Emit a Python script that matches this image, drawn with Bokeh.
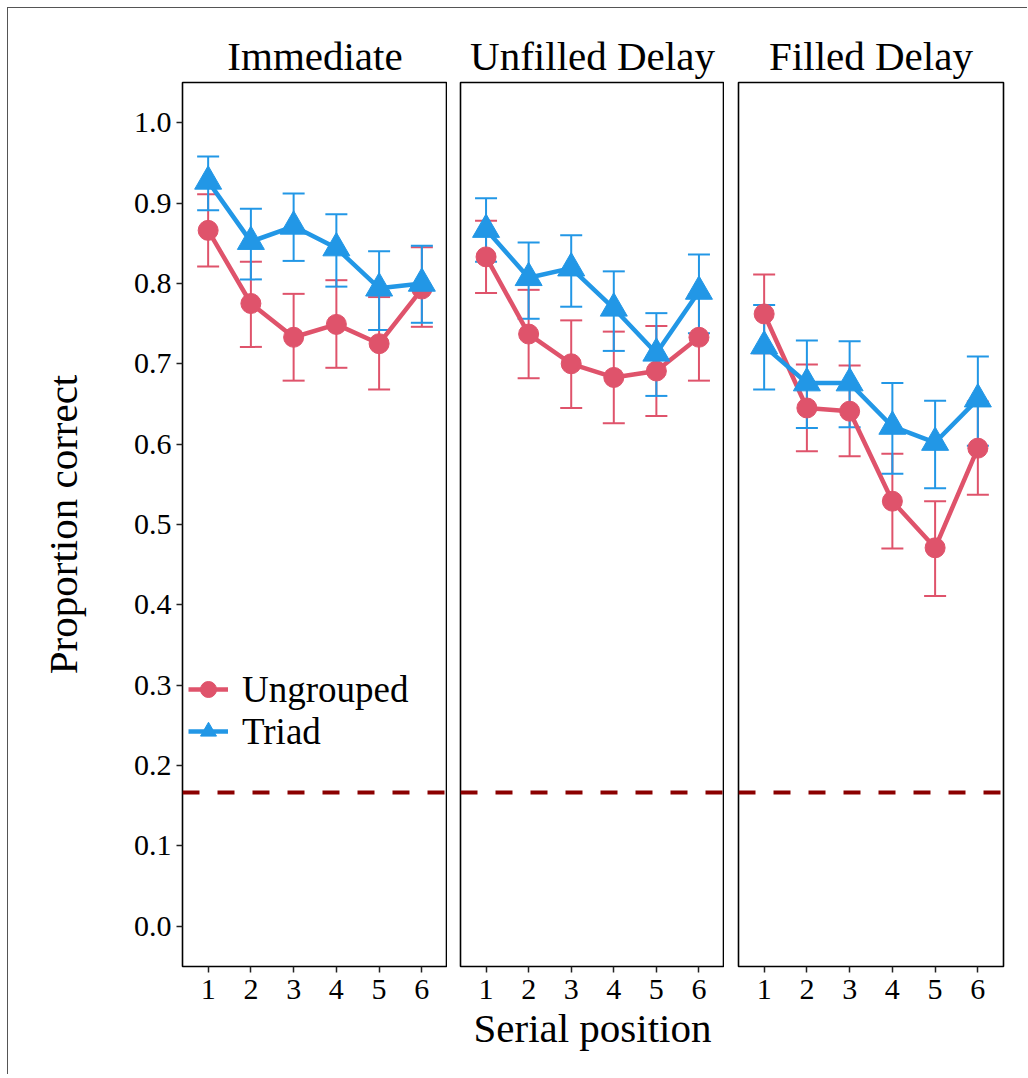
from bokeh.plotting import figure
from bokeh.layouts import row
from bokeh.models import (Range1d, FixedTicker, NumeralTickFormatter, Whisker, TeeHead,
                          ColumnDataSource, Span, Legend, LegendItem)
from bokeh.embed import file_html
from bokeh.resources import INLINE

FONT = "Liberation Serif"
RED = "#DF536B"
BLUE = "#2297E6"

conditions = ["Immediate", "Unfilled Delay", "Filled Delay"]
positions = [1, 2, 3, 4, 5, 6]
y_ticks = [0.0, 0.1, 0.2, 0.3, 0.4, 0.5, 0.6, 0.7, 0.8, 0.9, 1.0]
chance = 1 / 6

# Ungrouped (mean, lower, upper) per condition
ung_immediate = [0.866, 0.775, 0.733, 0.749, 0.725, 0.793]
ung_immediate_lo = [0.821, 0.721, 0.679, 0.695, 0.668, 0.746]
ung_immediate_hi = [0.911, 0.827, 0.787, 0.804, 0.783, 0.845]
ung_unfilled = [0.833, 0.737, 0.700, 0.683, 0.691, 0.733]
ung_unfilled_lo = [0.788, 0.682, 0.645, 0.626, 0.635, 0.679]
ung_unfilled_hi = [0.878, 0.792, 0.754, 0.740, 0.747, 0.786]
ung_filled = [0.762, 0.645, 0.641, 0.529, 0.471, 0.595]
ung_filled_lo = [0.713, 0.591, 0.585, 0.470, 0.411, 0.537]
ung_filled_hi = [0.811, 0.699, 0.698, 0.588, 0.529, 0.653]

# Triad
tri_immediate = [0.927, 0.852, 0.871, 0.844, 0.794, 0.800]
tri_immediate_lo = [0.891, 0.805, 0.828, 0.796, 0.742, 0.751]
tri_immediate_hi = [0.958, 0.893, 0.912, 0.886, 0.840, 0.847]
tri_unfilled = [0.867, 0.807, 0.819, 0.769, 0.713, 0.790]
tri_unfilled_lo = [0.827, 0.756, 0.771, 0.716, 0.660, 0.738]
tri_unfilled_hi = [0.906, 0.851, 0.860, 0.815, 0.763, 0.836]
tri_filled = [0.722, 0.676, 0.676, 0.622, 0.602, 0.656]
tri_filled_lo = [0.668, 0.620, 0.621, 0.563, 0.545, 0.598]
tri_filled_hi = [0.773, 0.729, 0.728, 0.676, 0.654, 0.709]

ung_data = [(ung_immediate, ung_immediate_lo, ung_immediate_hi),
            (ung_unfilled, ung_unfilled_lo, ung_unfilled_hi),
            (ung_filled, ung_filled_lo, ung_filled_hi)]
tri_data = [(tri_immediate, tri_immediate_lo, tri_immediate_hi),
            (tri_unfilled, tri_unfilled_lo, tri_unfilled_hi),
            (tri_filled, tri_filled_lo, tri_filled_hi)]

y_range = Range1d(-0.05, 1.05)
frame_widths = [265, 264, 265]
left_borders = [174, 13, 14]
right_borders = [0, 0, 24]

figs = []
for i, name in enumerate(conditions):
    p = figure(frame_width=frame_widths[i], frame_height=884,
               x_range=Range1d(0.4, 6.6), y_range=y_range,
               output_backend="svg", toolbar_location=None,
               min_border_left=left_borders[i], min_border_right=right_borders[i],
               min_border_top=74, min_border_bottom=108, title=name)
    p.xgrid.visible = False
    p.ygrid.visible = False
    p.outline_line_color = "black"
    p.outline_line_width = 1.6
    p.background_fill_color = "white"
    p.border_fill_color = "white"

    p.title.text_font = FONT
    p.title.text_font_size = "41px"
    p.title.text_font_style = "normal"
    p.title.text_color = "black"
    p.title.align = "center"
    p.title.standoff = 7

    p.add_layout(Span(location=chance, dimension="width", line_color="#8B0000",
                      line_width=4, line_dash="17 18"))

    sources = {}
    for key, data, col in [("ung", ung_data[i], RED), ("tri", tri_data[i], BLUE)]:
        mean, lo, hi = data
        src = ColumnDataSource(dict(x=positions, y=mean, lo=lo, hi=hi))
        p.add_layout(Whisker(source=src, base="x", upper="hi", lower="lo",
                             line_color=col, line_width=2,
                             upper_head=TeeHead(size=22, line_color=col, line_width=2),
                             lower_head=TeeHead(size=22, line_color=col, line_width=2)))
        sources[key] = src
    lines = {}
    for key, col in [("ung", RED), ("tri", BLUE)]:
        lines[key] = p.line("x", "y", source=sources[key], line_color=col, line_width=4.5)
    pts = {}
    for key, col, marker, size in [("ung", RED, "circle", 20), ("tri", BLUE, "triangle", 27)]:
        pts[key] = p.scatter("x", "y", source=sources[key], marker=marker, size=size,
                             fill_color=col, line_color=col)

    xa = p.xaxis[0]
    xa.ticker = FixedTicker(ticks=positions)
    xa.axis_line_color = None
    xa.major_tick_line_color = "#222222"
    xa.major_tick_line_width = 1.5
    xa.major_tick_out = 6
    xa.major_tick_in = 0
    xa.minor_tick_line_color = None
    xa.major_label_text_font = FONT
    xa.major_label_text_font_size = "30px"
    xa.major_label_text_color = "black"
    xa.major_label_standoff = 7
    if i == 1:
        xa.axis_label = "Serial position"
        xa.axis_label_text_font = FONT
        xa.axis_label_text_font_size = "41px"
        xa.axis_label_text_font_style = "normal"
        xa.axis_label_text_color = "black"
        xa.axis_label_standoff = 3

    ya = p.yaxis[0]
    if i == 0:
        ya.ticker = FixedTicker(ticks=y_ticks)
        ya.formatter = NumeralTickFormatter(format="0.0")
        ya.axis_line_color = None
        ya.major_tick_line_color = "#222222"
        ya.major_tick_line_width = 1.5
        ya.major_tick_out = 6
        ya.major_tick_in = 0
        ya.minor_tick_line_color = None
        ya.major_label_text_font = FONT
        ya.major_label_text_font_size = "30px"
        ya.major_label_text_color = "black"
        ya.major_label_standoff = 5
        ya.axis_label = "Proportion correct"
        ya.axis_label_text_font = FONT
        ya.axis_label_text_font_size = "41px"
        ya.axis_label_text_font_style = "normal"
        ya.axis_label_text_color = "black"
        ya.axis_label_standoff = 45

        for label, key, ly in [("Ungrouped", "ung", 254), ("Triad", "tri", 212)]:
            legend = Legend(items=[LegendItem(label=label, renderers=[lines[key], pts[key]])],
                            location=(6, ly))
            legend.border_line_color = None
            legend.background_fill_alpha = 0
            legend.padding = 0
            legend.margin = 0
            legend.glyph_width = 40
            legend.glyph_height = 46
            legend.label_standoff = 14
            legend.label_text_font = FONT
            legend.label_text_font_size = "37px"
            legend.label_text_color = "black"
            p.add_layout(legend)
    else:
        ya.visible = False
    figs.append(p)

layout = row(*figs, styles={"margin-left": "7px", "margin-top": "7px",
                            "border-left": "1px solid #555555",
                            "border-top": "1px solid #555555"})
open("out.html", "w").write(file_html(layout, INLINE))
